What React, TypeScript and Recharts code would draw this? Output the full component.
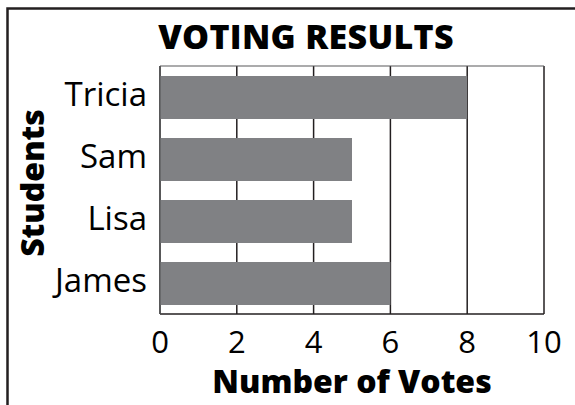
import React from "react";
import {
  BarChart,
  Bar,
  XAxis,
  YAxis,
  CartesianGrid,
  Label,
} from "recharts";

const students = ["Tricia", "Sam", "Lisa", "James"];
const votes = [8, 5, 5, 6];
const voteTicks = [0, 2, 4, 6, 8, 10];

const data = students.map((name, i) => ({ name, votes: votes[i] }));

const FONT = '"Open Sans", "DejaVu Sans", sans-serif';
const INK = "#000";
const LINE = "#231f20";
const BAR = "#808184";

function StudentsLabel() {
  return (
    <text
      x={44}
      y={183}
      transform="rotate(-90 44 183)"
      textAnchor="middle"
      fontFamily={FONT}
      fontWeight={800}
      fontSize={32}
      fill={INK}
    >
      Students
    </text>
  );
}

export default function App() {
  return (
    <div
      style={{
        position: "absolute",
        left: 0,
        top: 0,
        width: 575,
        height: 405,
        overflow: "hidden",
        background: "#fff",
        fontFamily: FONT,
      }}
    >
      <BarChart
        width={575}
        height={405}
        data={data}
        layout="vertical"
        margin={{ top: 66, right: 31, bottom: 0, left: 0 }}
        barCategoryGap={0}
      >
        <CartesianGrid horizontal={false} stroke={LINE} strokeWidth={1.5} />
        <CartesianGrid
          vertical={false}
          stroke="#58595b"
          strokeWidth={1.2}
          horizontalCoordinatesGenerator={({ offset }: any) => [offset.top]}
        />
        <XAxis
          type="number"
          domain={[0, 10]}
          ticks={voteTicks}
          interval={0}
          height={91}
          tickLine={false}
          tickSize={0}
          tickMargin={17}
          axisLine={{ stroke: LINE, strokeWidth: 1.5 }}
          tick={{ fill: INK, fontSize: 31, fontFamily: FONT }}
        >
          <Label
            value="Number of Votes"
            position="insideBottom"
            offset={12}
            fill={INK}
            fontSize={32}
            fontWeight={800}
            fontFamily={FONT}
          />
        </XAxis>
        <YAxis
          type="category"
          dataKey="name"
          width={160}
          tickLine={false}
          tickSize={0}
          tickMargin={13}
          axisLine={{ stroke: "#58595b", strokeWidth: 1.2 }}
          tick={{ fill: INK, fontSize: 33, fontFamily: FONT, dy: -3 }}
        >
          <Label content={<StudentsLabel />} />
        </YAxis>
        <Bar dataKey="votes" fill={BAR} barSize={43} isAnimationActive={false} />
      </BarChart>
      <svg
        width={575}
        height={405}
        style={{ position: "absolute", left: 0, top: 0, pointerEvents: "none" }}
      >
        <rect
          x={7.5}
          y={8.5}
          width={600}
          height={420}
          fill="none"
          stroke={LINE}
          strokeWidth={2.5}
        />
        <text
          x={306}
          y={49}
          textAnchor="middle"
          fontFamily={FONT}
          fontWeight={800}
          fontSize={34}
          letterSpacing={0.3}
          fill={INK}
        >
          VOTING RESULTS
        </text>
      </svg>
    </div>
  );
}
